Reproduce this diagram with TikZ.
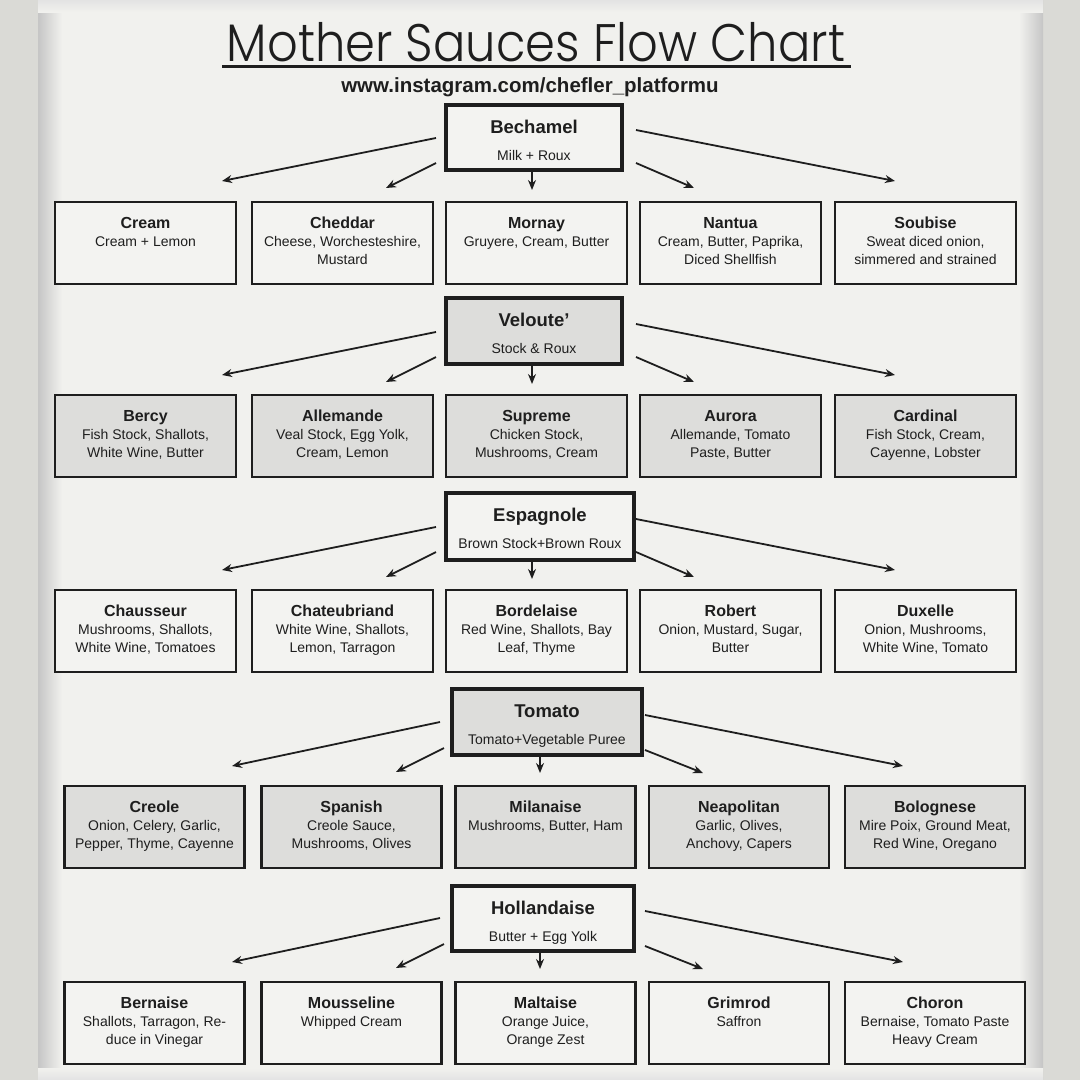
\documentclass[tikz,border=0pt]{standalone}
\usepackage{fontspec}
\setmainfont{Liberation Sans}
\IfFontExistsTF{Poppins Light}{\newfontfamily\titlefont{Poppins Light}}{\newfontfamily\titlefont{Poppins}}
\usetikzlibrary{arrows.meta,calc}
\definecolor{panel}{RGB}{241,241,238}
\definecolor{outer}{RGB}{218,218,214}
\definecolor{ink}{RGB}{30,30,30}
\definecolor{boxgrey}{RGB}{221,221,219}
\definecolor{boxwhite}{RGB}{243,243,241}
\tikzset{
  childbox/.style={draw=ink,line width=2.4pt,minimum width=#1,minimum height=82pt,inner sep=0pt},
  motherbox/.style={draw=ink,line width=3.4pt,inner sep=0pt},
  ctitle/.style={font=\fontsize{16}{18}\selectfont\bfseries,text=ink,inner sep=0pt,anchor=base},
  cdesc/.style={font=\fontsize{14}{18}\selectfont,text=ink,align=center,inner sep=0pt,anchor=north},
  mtitle/.style={font=\fontsize{18.5}{20}\selectfont\bfseries,text=ink,inner sep=0pt,anchor=base},
  mdesc/.style={font=\fontsize{14}{15}\selectfont,text=ink,inner sep=0pt,anchor=base},
  arr/.style={draw=ink,line width=1.8pt,-{Stealth[length=10pt,width=8pt]}},
}
% \sauce{name}{cx}{top}{width}{fill}{title}{desc}
\newcommand\sauce[7]{%
  \node[childbox=#4,fill=#5] (#1) at (#2,#3+41) {};
  \node[ctitle] (#1t) at (#2,#3+26) {#6};
  \node[cdesc] (#1d) at (#2,#3+34.5) {#7};
}
% \mother{name}{cx}{cy}{w}{h}{fill}{title}{desc}
\newcommand\mother[8]{%
  \node[motherbox,minimum width=#4,minimum height=#5,fill=#6] (#1) at (#2,#3) {};
  \node[mtitle] (#1t) at (#2,#3-#5/2+28.5) {#7};
  \node[mdesc] (#1d) at (#2,#3-#5/2+55) {#8};
}
% fan of five arrows, pattern A (rows 1-3)
\newcommand\fanA[2]{%
  \coordinate (#1s1) at (436,138+#2); \coordinate (#1e1) at (222,181+#2);
  \coordinate (#1s2) at (436,163+#2); \coordinate (#1e2) at (386,188+#2);
  \coordinate (#1s3) at (532,172+#2); \coordinate (#1e3) at (532,190+#2);
  \coordinate (#1s4) at (636,163+#2); \coordinate (#1e4) at (694,188+#2);
  \coordinate (#1s5) at (636,130+#2); \coordinate (#1e5) at (895,181+#2);
  \foreach \k in {1,...,5}{\draw[arr] (#1s\k) -- (#1e\k);}
}
% pattern B (rows 4-5)
\newcommand\fanB[2]{%
  \coordinate (#1s1) at (440,722+#2); \coordinate (#1e1) at (232,766+#2);
  \coordinate (#1s2) at (444,748+#2); \coordinate (#1e2) at (396,772+#2);
  \coordinate (#1s3) at (540,757+#2); \coordinate (#1e3) at (540,773+#2);
  \coordinate (#1s4) at (645,750+#2); \coordinate (#1e4) at (703,773+#2);
  \coordinate (#1s5) at (645,715+#2); \coordinate (#1e5) at (903,766+#2);
  \foreach \k in {1,...,5}{\draw[arr] (#1s\k) -- (#1e\k);}
}
\begin{document}
\begin{tikzpicture}[x=1pt,y=-1pt]
\useasboundingbox (0,0) rectangle (1080,1080);
\fill[outer] (0,0) rectangle (1080,1080);
\fill[panel] (38,0) rectangle (1043,1080);
\shade[left color=gray!45,right color=panel] (38,0) rectangle (62,1080);
\shade[right color=gray!45,left color=panel] (1019,0) rectangle (1043,1080);
\shade[top color=gray!22,bottom color=panel] (38,0) rectangle (1043,12);
\shade[bottom color=gray!22,top color=panel] (38,1068) rectangle (1043,1080);

% title
\node[font=\titlefont\fontsize{48}{50}\selectfont,text=ink,inner sep=0pt,anchor=base] (title) at (536,61) {\scalebox{1}[1.1]{Mother Sauces Flow Chart}};
\draw[ink,line width=3pt] (222,66.5) -- (851,66.5);
\node[font=\fontsize{20.5}{22}\selectfont\bfseries,text=ink,inner sep=0pt,anchor=base] (url) at (530,92) {www.instagram.com/chefler\_platformu};

% mothers
\mother{bech}{534}{137.5}{176}{65}{boxwhite}{Bechamel}{Milk + Roux}
\mother{velo}{534}{331}{176}{66}{boxgrey}{Veloute'}{Stock \& Roux}
\mother{espa}{540}{526.5}{188}{67}{boxwhite}{Espagnole}{Brown Stock+Brown Roux}
\mother{toma}{547}{722}{190}{66}{boxgrey}{Tomato}{Tomato+Vegetable Puree}
\mother{holl}{543}{918.5}{182}{65}{boxwhite}{Hollandaise}{Butter + Egg Yolk}

% row 1
\sauce{cream}{145.5}{202}{181}{boxwhite}{Cream}{Cream + Lemon}
\sauce{cheddar}{342.5}{202}{181}{boxwhite}{Cheddar}{Cheese, Worchesteshire,\\Mustard}
\sauce{mornay}{536.5}{202}{181}{boxwhite}{Mornay}{Gruyere, Cream, Butter}
\sauce{nantua}{730.5}{202}{181}{boxwhite}{Nantua}{Cream, Butter, Paprika,\\Diced Shellfish}
\sauce{soubise}{925.5}{202}{181}{boxwhite}{Soubise}{Sweat diced onion,\\simmered and strained}
% row 2
\sauce{bercy}{145.5}{395}{181}{boxgrey}{Bercy}{Fish Stock, Shallots,\\White Wine, Butter}
\sauce{allemande}{342.5}{395}{181}{boxgrey}{Allemande}{Veal Stock, Egg Yolk,\\Cream, Lemon}
\sauce{supreme}{536.5}{395}{181}{boxgrey}{Supreme}{Chicken Stock,\\Mushrooms, Cream}
\sauce{aurora}{730.5}{395}{181}{boxgrey}{Aurora}{Allemande, Tomato\\Paste, Butter}
\sauce{cardinal}{925.5}{395}{181}{boxgrey}{Cardinal}{Fish Stock, Cream,\\Cayenne, Lobster}
% row 3
\sauce{chausseur}{145.5}{590}{181}{boxwhite}{Chausseur}{Mushrooms, Shallots,\\White Wine, Tomatoes}
\sauce{chateau}{342.5}{590}{181}{boxwhite}{Chateubriand}{White Wine, Shallots,\\Lemon, Tarragon}
\sauce{bordelaise}{536.5}{590}{181}{boxwhite}{Bordelaise}{Red Wine, Shallots, Bay\\Leaf, Thyme}
\sauce{robert}{730.5}{590}{181}{boxwhite}{Robert}{Onion, Mustard, Sugar,\\Butter}
\sauce{duxelle}{925.5}{590}{181}{boxwhite}{Duxelle}{Onion, Mushrooms,\\White Wine, Tomato}
% row 4
\sauce{creole}{154.5}{786}{180}{boxgrey}{Creole}{Onion, Celery, Garlic,\\Pepper, Thyme, Cayenne}
\sauce{spanish}{351.5}{786}{180}{boxgrey}{Spanish}{Creole Sauce,\\Mushrooms, Olives}
\sauce{milanaise}{545.5}{786}{180}{boxgrey}{Milanaise}{Mushrooms, Butter, Ham}
\sauce{neapolitan}{739}{786}{180}{boxgrey}{Neapolitan}{Garlic, Olives,\\Anchovy, Capers}
\sauce{bolognese}{935}{786}{180}{boxgrey}{Bolognese}{Mire Poix, Ground Meat,\\Red Wine, Oregano}
% row 5
\sauce{bernaise}{154.5}{982}{180}{boxwhite}{Bernaise}{Shallots, Tarragon, Re-\\duce in Vinegar}
\sauce{mousseline}{351.5}{982}{180}{boxwhite}{Mousseline}{Whipped Cream}
\sauce{maltaise}{545.5}{982}{180}{boxwhite}{Maltaise}{Orange Juice,\\Orange Zest}
\sauce{grimrod}{739}{982}{180}{boxwhite}{Grimrod}{Saffron}
\sauce{choron}{935}{982}{180}{boxwhite}{Choron}{Bernaise, Tomato Paste\\Heavy Cream}

% arrows
\fanA{bech}{0}
\fanA{velo}{194}
\fanA{espa}{389}
\fanB{toma}{0}
\fanB{holl}{196}
\end{tikzpicture}
\end{document}
